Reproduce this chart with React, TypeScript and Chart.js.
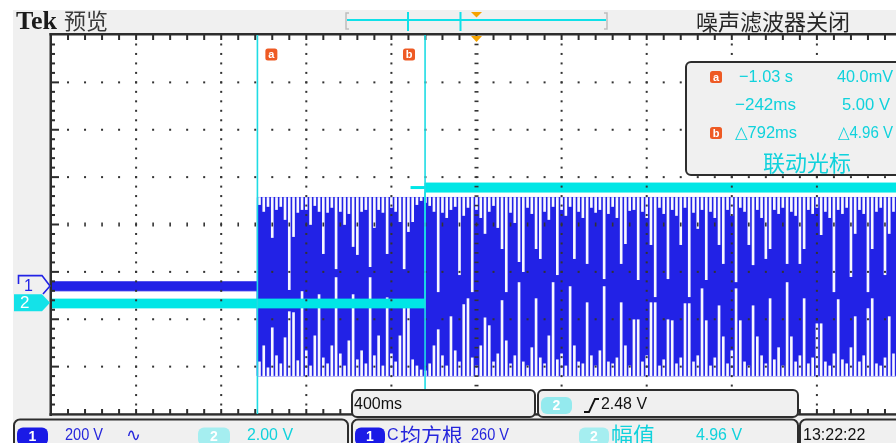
import React, { useEffect, useRef } from "react";
import { Chart, registerables } from "chart.js";

Chart.register(...registerables);

// ---- time base: 400 ms / div, 10 divisions, trigger at centre ----
const timeMin = -2.0;
const timeMax = 2.0;
const divisionsX = 10;
const divisionsY = 8;

// ---- channel settings ----
const ch1VoltsPerDiv = 200;
const ch1PositionDiv = -1.3;
const ch2VoltsPerDiv = 2;
const ch2PositionDiv = -1.65;

// ---- cursors / trigger (s) ----
const cursorATime = -1.03;
const cursorBTime = -0.242;
const triggerTime = 0;
const ch2EarlyTime = -0.31;

// ---- trace envelopes (V) ----
const ch1PreBand = [-20, 18];
const ch1PostBand = [-379, 374];
const ch2PreBand = [-0.22, 0.15];
const ch2PostBand = [4.67, 5.05];
const ch2EarlyLevel = 4.86;

// ---- CH1 acquisition columns after cursor a (V where the empty column ends) ----
const gapStart = -1.02;
const gapStep = 0.02;
const ch1TopGap = [
  344, 315, 336, 205, 323, 336, 281, -15, 209, 311,
  323, 323, 260, 340, 315, 137, 311, 332, 73, 315,
  260, 306, 167, 133, 315, 323, 82, 247, 323, 311,
  137, 332, 315, 272, 73, 230, 272, 344, 361, 353,
  340, 315, -24, 311, 289, 323, 336, 48, 298, 332,
  -24, 323, 289, 222, 315, 340, 247, 158, -24, 311,
  268, 103, 61, 332, 306, 158, 116, 315, 281, 336,
  48, 323, 298, 336, 116, 315, 289, 95, 332, 311,
  323, 31, 306, 336, 289, 95, 179, 319, 323, 27,
  315, 289, 175, -45, 332, 306, 31, 323, 298, 175,
  332, -45, 311, 243, 323, 27, 315, 289, 175, 95,
  323, 298, 18, 332, 315, 175, 90, 323, 289, 116,
  158, 323, 306, 332, 95, 315, 298, 95, 158, 323,
  306, 332, 217, 315, 289, -24, 323, 306, 332, 40,
  222, 323, 306, -24, 158, 315, 332, 48, 222, 315, 323,
];
const ch1BottomGap = [
  -320, -252, -345, -176, -294, -328, -218, -108, -112, -315,
  -23, -273, -337, -210, -36, -303, -328, -252, 36, -286,
  -337, -231, -36, -311, -273, -328, 36, -294, -210, -337,
  -49, -286, -320, -210, -91, -91, -311, -337, -354, -358,
  -328, -252, -184, -294, -337, -129, -273, -320, -78, -53,
  -303, -337, -252, -134, -167, -320, -286, -61, -231, -328,
  -294, 15, -320, -337, -260, -53, -303, -328, -210, 15,
  -311, -286, -337, -2, -252, -320, -328, -70, -294, -337,
  -273, -2, -320, -328, -303, -70, -252, -337, -142, -142,
  -320, -294, -70, -70, -337, -311, -142, -146, -328, -303,
  -74, -74, -320, -294, -11, -146, -337, -303, -83, -214,
  -328, -273, -11, -146, -320, -337, -83, -214, -294, -328,
  -53, -311, -260, -337, 15, -214, -320, -294, -53, -328,
  -303, -159, -159, -320, -337, -286, -57, -311, -328, -260,
  -129, -320, -294, -95, -53, -328, -337, -303, -129, -286, -320,
];

// ---- texts ----
const headerBrand = "Tek";
const headerMode = "预览";
const headerStatus = "噪声滤波器关闭";
const readoutTimes = ["\u22121.03 s", "\u2212242ms", "\u25B3792ms"];
const readoutVolts = ["40.0mV", "5.00 V", "\u25B34.96 V"];
const readoutTitle = "联动光标";
const timebaseLabel = "400ms";
const triggerLabel = "2.48 V";
const ch1ScaleLabel = "200 V";
const ch2ScaleLabel = "2.00 V";
const measure1Label = ["C", "均方根", "260 V"];
const measure2Label = ["幅值", "4.96 V"];
const clockLabel = "13:22:22";

const BLUE = "#2222e6";
const CYAN = "#00e6e6";
const CURSOR = "#1fdce4";
const TXT_BLUE = "#2626dc";
const TXT_CYAN = "#10d2dc";
const ORANGE = "#ee5a24";
const PANEL = "#f0f0f0";
const DARK = "#2d2d2d";
const NUM = '"Liberation Sans", Arial, sans-serif';
const CJK = '"Noto Sans CJK SC", "Noto Sans", sans-serif';

function rrPath(ctx: CanvasRenderingContext2D, x: number, y: number, w: number, h: number, r: number) {
  ctx.beginPath();
  ctx.moveTo(x + r, y);
  ctx.lineTo(x + w - r, y);
  ctx.arcTo(x + w, y, x + w, y + r, r);
  ctx.lineTo(x + w, y + h - r);
  ctx.arcTo(x + w, y + h, x + w - r, y + h, r);
  ctx.lineTo(x + r, y + h);
  ctx.arcTo(x, y + h, x, y + h - r, r);
  ctx.lineTo(x, y + r);
  ctx.arcTo(x, y, x + r, y, r);
  ctx.closePath();
}

function panel(ctx: CanvasRenderingContext2D, x: number, y: number, w: number, h: number, r: number) {
  rrPath(ctx, x, y, w, h, r);
  ctx.fillStyle = PANEL;
  ctx.fill();
  ctx.lineWidth = 2;
  ctx.strokeStyle = DARK;
  ctx.stroke();
}

function txt(
  ctx: CanvasRenderingContext2D,
  s: string,
  x: number,
  y: number,
  font: string,
  color: string,
  maxW?: number,
  align: CanvasTextAlign = "left"
) {
  ctx.font = font;
  ctx.fillStyle = color;
  ctx.textAlign = align;
  ctx.textBaseline = "middle";
  if (maxW) ctx.fillText(s, x, y, maxW);
  else ctx.fillText(s, x, y);
}

function pill(ctx: CanvasRenderingContext2D, x: number, y: number, w: number, h: number, fill: string, label: string) {
  rrPath(ctx, x, y, w, h, 6);
  ctx.fillStyle = fill;
  ctx.fill();
  txt(ctx, label, x + w / 2, y + h / 2 + 1, `bold 14px ${NUM}`, "#ffffff", undefined, "center");
}

function cursorIcon(ctx: CanvasRenderingContext2D, x: number, y: number, label: string) {
  rrPath(ctx, x, y, 12, 12, 2.5);
  ctx.fillStyle = ORANGE;
  ctx.fill();
  txt(ctx, label, x + 6, y + 6.5, `bold 11px ${NUM}`, "#ffffff", undefined, "center");
}

const scopePlugin = {
  id: "scopeScreen",
  beforeDraw(chart: any) {
    const { ctx, width, height, chartArea: a } = chart;
    ctx.save();
    ctx.fillStyle = "#ffffff";
    ctx.fillRect(0, 0, width, height);
    ctx.fillStyle = PANEL;
    ctx.fillRect(13, 10, width - 13, height - 10);
    ctx.fillStyle = "#ffffff";
    ctx.fillRect(a.left, a.top, a.right - a.left, a.bottom - a.top);
    ctx.restore();
  },
  afterDatasetsDraw(chart: any) {
    const { ctx, chartArea: a, scales } = chart;
    const xs = scales.x;
    const y1 = scales.y1;
    const y2 = scales.y2;
    const L = a.left, R = a.right, T = a.top, B = a.bottom;
    const dx = (R - L) / divisionsX;
    const dy = (B - T) / divisionsY;
    ctx.save();

    // graticule
    ctx.fillStyle = "#333333";
    for (let k = 1; k < divisionsX; k++) {
      const x = L + k * dx;
      for (let j = 1; j < divisionsY * 5; j++) {
        const y = T + (j * dy) / 5;
        if (k === divisionsX / 2) ctx.fillRect(x - 2, y - 0.8, 4, 1.6);
        else ctx.fillRect(x - 1, y - 1, 2, 2);
      }
    }
    for (let m = 1; m < divisionsY; m++) {
      const y = T + m * dy;
      for (let i = 1; i < divisionsX * 5; i++) {
        const x = L + (i * dx) / 5;
        if (m === divisionsY / 2) ctx.fillRect(x - 0.8, y - 2, 1.6, 4);
        else ctx.fillRect(x - 1, y - 1, 2, 2);
      }
    }
    // frame
    ctx.fillStyle = DARK;
    ctx.fillRect(L - 1.5, T - 2, R - L + 2, 2.5);
    ctx.fillRect(L - 1.5, T - 2, 2.5, B - T + 4);
    ctx.fillRect(L - 1.5, B - 0.8, R - L + 2, 2.4);
    for (let i = 1; i <= divisionsX * 5; i++) {
      const x = L + (i * dx) / 5;
      ctx.fillRect(x - 1, T, 2, 5);
      ctx.fillRect(x - 1, B - 5, 2, 5);
    }
    for (let j = 1; j < divisionsY * 5; j++) {
      const y = T + (j * dy) / 5;
      ctx.fillRect(L, y - 1, j % 5 === 0 ? 8 : 4, 2);
    }

    // cursors
    const xa = xs.getPixelForValue(cursorATime);
    const xb = xs.getPixelForValue(cursorBTime);
    ctx.fillStyle = CURSOR;
    ctx.fillRect(xa - 0.75, T, 1.6, B - T);
    ctx.fillRect(xb - 0.75, T, 1.6, B - T);
    cursorIcon(ctx, xa + 8, 48.5, "a");
    cursorIcon(ctx, xb - 22, 48.5, "b");

    // trigger position markers
    const tx = xs.getPixelForValue(triggerTime);
    ctx.fillStyle = "#f5a300";
    ctx.beginPath();
    ctx.moveTo(tx - 5.5, T + 1);
    ctx.lineTo(tx + 5.5, T + 1);
    ctx.lineTo(tx, T + 7);
    ctx.closePath();
    ctx.fill();

    // header
    txt(ctx, headerBrand, 16, 22, `bold 26px "Liberation Serif", serif`, "#1a1a1a");
    txt(ctx, headerMode, 64, 21, `22px ${CJK}`, "#3a3a3a");
    txt(ctx, headerStatus, 696, 22, `22px ${CJK}`, "#262626", 156);
    // record view bar
    ctx.strokeStyle = "#bdbdbd";
    ctx.lineWidth = 1.5;
    ctx.beginPath();
    ctx.moveTo(349, 13); ctx.lineTo(346, 13); ctx.lineTo(346, 29); ctx.lineTo(349, 29);
    ctx.moveTo(604, 13); ctx.lineTo(607, 13); ctx.lineTo(607, 29); ctx.lineTo(604, 29);
    ctx.stroke();
    ctx.fillStyle = "#10e0e8";
    ctx.fillRect(347, 19, 259, 2);
    ctx.fillRect(407, 12, 2, 19);
    ctx.fillRect(459.5, 12, 2, 19);
    ctx.fillStyle = "#f5a300";
    ctx.beginPath();
    ctx.moveTo(tx - 5.5, 12);
    ctx.lineTo(tx + 5.5, 12);
    ctx.lineTo(tx, 17.5);
    ctx.closePath();
    ctx.fill();

    // channel ground markers
    const g1 = y1.getPixelForValue(0);
    ctx.strokeStyle = BLUE;
    ctx.lineWidth = 1.6;
    ctx.beginPath();
    ctx.moveTo(18.5, g1 - 2);
    ctx.lineTo(18.5, g1 - 10.5);
    ctx.lineTo(42, g1 - 10.5);
    ctx.lineTo(50, g1);
    ctx.lineTo(43, g1 + 8);
    ctx.stroke();
    txt(ctx, "1", 24, g1 + 0.5, `16px ${NUM}`, BLUE);
    const g2 = y2.getPixelForValue(0);
    ctx.fillStyle = "#14e2e8";
    ctx.beginPath();
    ctx.moveTo(14, g2 - 8.5);
    ctx.lineTo(42, g2 - 8.5);
    ctx.lineTo(50, g2);
    ctx.lineTo(42, g2 + 8.5);
    ctx.lineTo(14, g2 + 8.5);
    ctx.closePath();
    ctx.fill();
    txt(ctx, "2", 20, g2 + 1, `17px ${NUM}`, "#ffffff");

    // cursor readout
    panel(ctx, 686, 62, 240, 113, 5);
    cursorIcon(ctx, 710, 71, "a");
    cursorIcon(ctx, 710, 127, "b");
    const rowY = [77, 105, 133];
    const tX = [739, 735, 735];
    const tW = [54, 61, 62];
    const vX = [837, 842, 838];
    const vW = [56, 48, 55];
    for (let r = 0; r < 3; r++) {
      txt(ctx, readoutTimes[r], tX[r], rowY[r], `17px ${NUM}`, TXT_CYAN, tW[r]);
      txt(ctx, readoutVolts[r], vX[r], rowY[r], `17px ${NUM}`, TXT_CYAN, vW[r]);
    }
    txt(ctx, readoutTitle, 807, 163, `22px ${CJK}`, TXT_CYAN, undefined, "center");

    // timebase + trigger boxes
    panel(ctx, 352, 390, 183, 27, 5);
    txt(ctx, timebaseLabel, 354, 404.5, `16px ${NUM}`, "#111111", 52);
    panel(ctx, 538, 390, 260, 27, 5);
    pill(ctx, 541, 397, 31, 17, "#94eaee", "2");
    ctx.strokeStyle = "#111111";
    ctx.lineWidth = 1.8;
    ctx.beginPath();
    ctx.moveTo(584, 412);
    ctx.lineTo(589, 412);
    ctx.lineTo(595, 399);
    ctx.lineTo(599, 399);
    ctx.stroke();
    txt(ctx, triggerLabel, 601, 405, `16px ${NUM}`, "#111111", 46);

    // bottom status bar
    panel(ctx, 14, 419.5, 334, 40, 6);
    panel(ctx, 352, 419.5, 446, 40, 6);
    panel(ctx, 800, 419.5, 130, 40, 6);
    pill(ctx, 17, 427.5, 31, 18, "#1a1ae6", "1");
    txt(ctx, ch1ScaleLabel, 65, 436, `16px ${NUM}`, TXT_BLUE, 38);
    txt(ctx, "\u223F", 126, 436, `18px "DejaVu Sans", sans-serif`, TXT_BLUE, 17);
    pill(ctx, 198, 427.5, 32, 18, "#a5eef0", "2");
    txt(ctx, ch2ScaleLabel, 247, 436, `16px ${NUM}`, TXT_CYAN, 46);
    pill(ctx, 355, 427.5, 30, 18, "#1a1ae6", "1");
    txt(ctx, measure1Label[0], 387, 436, `16px ${NUM}`, TXT_BLUE);
    txt(ctx, measure1Label[1], 400, 435, `21px ${CJK}`, TXT_BLUE, 64);
    txt(ctx, measure1Label[2], 471, 436, `16px ${NUM}`, TXT_BLUE, 38);
    pill(ctx, 579, 427.5, 30, 18, "#a5eef0", "2");
    txt(ctx, measure2Label[0], 611, 435, `22px ${CJK}`, TXT_CYAN, 45);
    txt(ctx, measure2Label[1], 696, 436, `16px ${NUM}`, TXT_CYAN, 46);
    txt(ctx, clockLabel, 803, 436, `16px ${NUM}`, "#111111", 63);

    ctx.restore();
  },
};

export default function App() {
  const ref = useRef<HTMLCanvasElement>(null);

  useEffect(() => {
    if (!ref.current) return;
    const band = (pre: number[], post: number[], edge: number, idx: number) => [
      { x: timeMin, y: pre[idx] },
      { x: edge, y: pre[idx] },
      { x: edge, y: post[idx] },
      { x: timeMax, y: post[idx] },
    ];
    const lineBase = {
      type: "line" as const,
      pointRadius: 0,
      tension: 0,
      borderWidth: 1,
    };
    const chart = new Chart(ref.current, {
      type: "line",
      data: {
        datasets: [
          {
            ...lineBase,
            label: "CH1 max",
            data: band(ch1PreBand, ch1PostBand, cursorATime, 1),
            yAxisID: "y1",
            borderColor: BLUE,
            backgroundColor: BLUE,
            fill: "+1",
            order: 10,
          },
          {
            ...lineBase,
            label: "CH1 min",
            data: band(ch1PreBand, ch1PostBand, cursorATime, 0),
            yAxisID: "y1",
            borderColor: BLUE,
            backgroundColor: BLUE,
            fill: false,
            order: 10,
          },
          {
            ...lineBase,
            label: "CH2 max",
            data: band(ch2PreBand, ch2PostBand, cursorBTime, 1),
            yAxisID: "y2",
            borderColor: CYAN,
            backgroundColor: CYAN,
            fill: "+1",
            order: 2,
          },
          {
            ...lineBase,
            label: "CH2 min",
            data: band(ch2PreBand, ch2PostBand, cursorBTime, 0),
            yAxisID: "y2",
            borderColor: CYAN,
            backgroundColor: CYAN,
            fill: false,
            order: 2,
          },
          {
            ...lineBase,
            label: "CH2 early",
            data: [
              { x: ch2EarlyTime, y: ch2EarlyLevel },
              { x: cursorBTime, y: ch2EarlyLevel },
            ],
            yAxisID: "y2",
            borderColor: CYAN,
            borderWidth: 3,
            fill: false,
            order: 1,
          },
          {
            type: "bar" as const,
            label: "CH1 top gaps",
            data: ch1TopGap.map((v, i) => ({ x: gapStart + i * gapStep, y: [ch1PostBand[1], v] })) as any,
            yAxisID: "y1",
            backgroundColor: "#f8f8ff",
            borderWidth: 0,
            barThickness: 2,
            grouped: false,
            order: 5,
          },
          {
            type: "bar" as const,
            label: "CH1 bottom gaps",
            data: ch1BottomGap.map((v, i) => ({ x: gapStart + i * gapStep, y: [ch1PostBand[0], v] })) as any,
            yAxisID: "y1",
            backgroundColor: "#f8f8ff",
            borderWidth: 0,
            barThickness: 2,
            grouped: false,
            order: 5,
          },
        ] as any,
      },
      options: {
        responsive: false,
        maintainAspectRatio: false,
        animation: false,
        devicePixelRatio: 1,
        events: [],
        layout: { padding: { left: 51, top: 35, right: 8, bottom: 29 } },
        plugins: { legend: { display: false }, tooltip: { enabled: false } },
        scales: {
          x: { type: "linear", min: timeMin, max: timeMax, display: false, offset: false },
          y1: {
            type: "linear",
            min: (-divisionsY / 2 - ch1PositionDiv) * ch1VoltsPerDiv,
            max: (divisionsY / 2 - ch1PositionDiv) * ch1VoltsPerDiv,
            display: false,
          },
          y2: {
            type: "linear",
            min: (-divisionsY / 2 - ch2PositionDiv) * ch2VoltsPerDiv,
            max: (divisionsY / 2 - ch2PositionDiv) * ch2VoltsPerDiv,
            display: false,
          },
        },
      } as any,
      plugins: [scopePlugin],
    });
    return () => chart.destroy();
  }, []);

  return (
    <div
      style={{
        position: "fixed",
        left: 0,
        top: 0,
        width: 896,
        height: 443,
        overflow: "hidden",
        background: "#ffffff",
      }}
    >
      <canvas ref={ref} width={910} height={443} style={{ display: "block", width: 910, height: 443 }} />
    </div>
  );
}
